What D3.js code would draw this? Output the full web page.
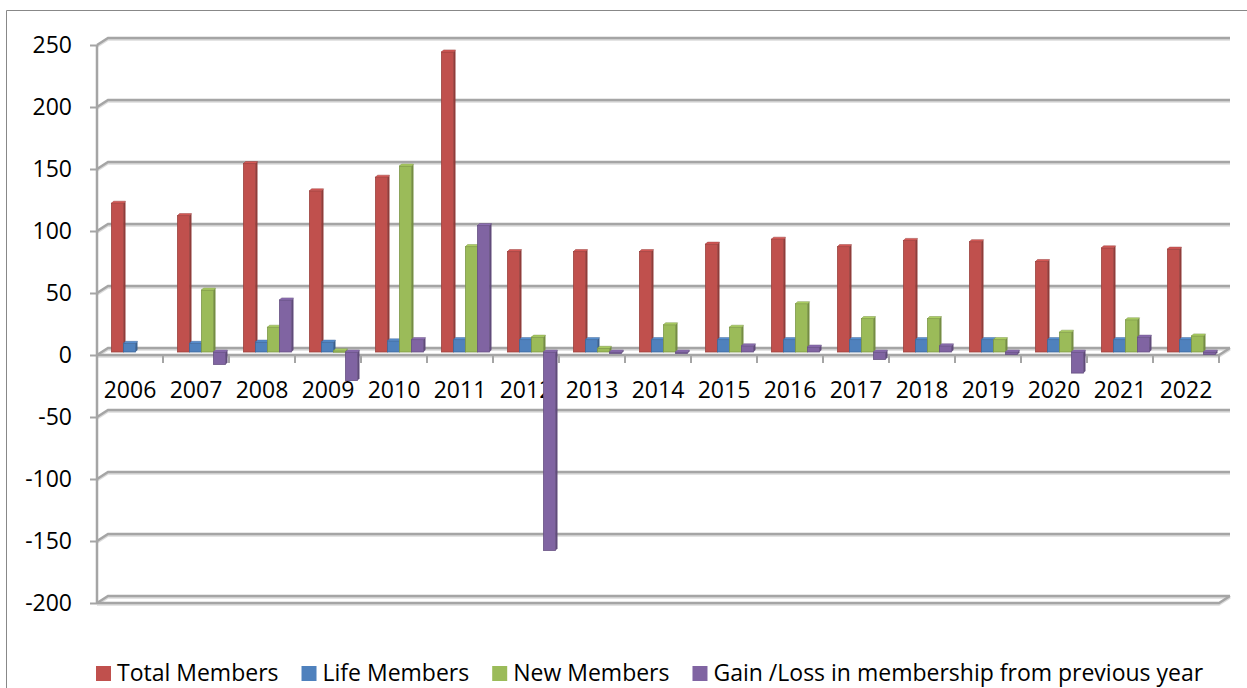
<!DOCTYPE html>
<html>
<head>
<meta charset="utf-8">
<script src="https://cdn.jsdelivr.net/npm/d3@7/dist/d3.min.js"></script>
<style>
  html, body { margin: 0; padding: 0; background: #fff; }
  text { font-family: "Open Sans", "Noto Sans", sans-serif; fill: #000; }
</style>
</head>
<body>
<div id="chart"></div>
<script>
// categories and series
var years = ["2006","2007","2008","2009","2010","2011","2012","2013","2014","2015","2016","2017","2018","2019","2020","2021","2022"];
var totalMembers = [120,110,152,130,141,242,81,81,81,87,91,85,90,89,73,84,83];
var lifeMembers  = [7,7,8,8,9,10,10,10,10,10,10,10,10,10,10,10,10];
var newMembers   = [0,50,20,1,150,85,12,3,22,20,39,27,27,10,16,26,13];
var gainLoss     = [0,-10,42,-23,10,102,-160,-1,-1,5,4,-6,5,-2,-17,12,-2];
var seriesNames  = ["Total Members","Life Members","New Members","Gain /Loss in membership from previous year"];
var seriesColors = ["#C0504D","#4F81BD","#9BBB59","#8064A2"];
var yTicks = [250,200,150,100,50,0,-50,-100,-150,-200];

var W = 1247, H = 688;
var depthX = 11, depthY = -7;   // back wall offset of the 3d box

var svg = d3.select("#chart").append("svg")
  .attr("width", W).attr("height", H);

// chart area border (runs off right and bottom)
svg.append("path")
  .attr("d", "M6.5,688 L6.5,10.5 L1247,10.5")
  .attr("fill", "none").attr("stroke", "#888").attr("stroke-width", 1);

var x = d3.scaleBand().domain(years).range([97, 1219]).paddingInner(0).paddingOuter(0);
var y = d3.scaleLinear().domain([-200, 250]).range([603, 45]);

var grid = svg.append("g");

// gridlines on the back wall plus the little diagonal to the side wall
function drawGridline(v, lineCol, w) {
  var yf = y(v), yb = yf + depthY;
  grid.append("path")
    .attr("d", "M97," + (yf + 1.5) + " L" + (97 + depthX) + "," + (yb + 1.5) + " L" + (1219 + depthX) + "," + (yb + 1.5))
    .attr("fill", "none").attr("stroke", "#dcdcdc").attr("stroke-width", w);
  grid.append("path")
    .attr("d", "M97," + yf + " L" + (97 + depthX) + "," + yb + " L" + (1219 + depthX) + "," + yb)
    .attr("fill", "none").attr("stroke", lineCol).attr("stroke-width", w);
}
yTicks.forEach(function(v) {
  if (v === 0 || v === -200) return;
  drawGridline(v, "#a5a5a5", 2.5);
});

// floors at 0 and at -200: back edge, front edge, right diagonal
[0, -200].forEach(function(v) {
  drawGridline(v, "#a5a5a5", 2.5);
  var yf = y(v);
  grid.append("path")
    .attr("d", "M97," + (yf + 1.5) + " L1219," + (yf + 1.5) + " L" + (1219 + depthX) + "," + (yf + depthY + 1.5))
    .attr("fill", "none").attr("stroke", "#dcdcdc").attr("stroke-width", 2.5);
  grid.append("path")
    .attr("d", "M97," + yf + " L1219," + yf + " L" + (1219 + depthX) + "," + (yf + depthY))
    .attr("fill", "none").attr("stroke", "#a5a5a5").attr("stroke-width", 2.5);
});

// value axis line and ticks
grid.append("line")
  .attr("x1", 97).attr("x2", 97).attr("y1", y(250)).attr("y2", y(-200))
  .attr("stroke", "#a5a5a5").attr("stroke-width", 2.5);

var yAxis = d3.axisLeft(y).tickValues(yTicks).tickSize(7).tickPadding(18)
  .tickFormat(function(d) { return String(d); });
var gy = svg.append("g").attr("transform", "translate(97,0)").call(yAxis);
gy.select(".domain").remove();
gy.selectAll(".tick line").attr("stroke", "#a5a5a5").attr("stroke-width", 2);
gy.selectAll(".tick text").style("font-size", "23px").attr("fill", "#000");

// category axis sits at 0, ticks on band boundaries
var bounds = years.map(function(d) { return x(d); }).concat([x.range()[1]]).slice(1);
svg.append("g").selectAll("line").data(bounds).join("line")
  .attr("x1", function(d) { return d; }).attr("x2", function(d) { return d; })
  .attr("y1", y(0)).attr("y2", y(0) + 8)
  .attr("stroke", "#a5a5a5").attr("stroke-width", 2);

var xAxis = d3.axisBottom(x).tickSize(0).tickPadding(0);
var gx = svg.append("g").attr("transform", "translate(0," + y(0) + ")").call(xAxis);
gx.select(".domain").remove();
gx.selectAll(".tick text").style("font-size", "23px").attr("dy", 0).attr("y", 43).attr("fill", "#000");

// bars, drawn half way into the depth of the box
var series = [totalMembers, lifeMembers, newMembers, gainLoss];
var x1 = d3.scaleBand().domain(d3.range(series.length)).range([0, x.bandwidth()]).paddingOuter(0.75).paddingInner(0);
var bw = x1.bandwidth();
var bars = svg.append("g").attr("transform", "translate(5.5,-3)");

series.forEach(function(vals, si) {
  var col = d3.color(seriesColors[si]);
  var g = bars.append("g");
  vals.forEach(function(v, i) {
    if (v === 0) return;
    var bx = x(years[i]) + x1(si);
    var top = y(Math.max(v, 0)), bot = y(Math.min(v, 0));
    var h = Math.max(bot - top, 1.5);
    // right side face
    g.append("path")
      .attr("d", "M" + (bx + bw) + "," + top + " l2,-2 l0," + h + " l-2,2 Z")
      .attr("fill", col.darker(0.8));
    // front face
    g.append("rect")
      .attr("x", bx).attr("y", top).attr("width", bw).attr("height", h)
      .attr("fill", col).attr("stroke", col.darker(0.6)).attr("stroke-width", 0.8);
    // top face
    g.append("path")
      .attr("d", "M" + bx + "," + top + " l2,-2 l" + bw + ",0 l-2,2 Z")
      .attr("fill", col.brighter(0.3)).attr("stroke", col.darker(0.6)).attr("stroke-width", 0.5);
  });
});

// legend along the bottom edge
var legend = svg.append("g");
var lx = 96;
seriesNames.forEach(function(name, i) {
  legend.append("rect")
    .attr("x", lx).attr("y", 666).attr("width", 15).attr("height", 15)
    .attr("fill", seriesColors[i]);
  var t = legend.append("text")
    .attr("x", lx + 21).attr("y", 681)
    .style("font-size", "23px")
    .text(name);
  lx += 21 + t.node().getComputedTextLength() + 23;
});
</script>
</body>
</html>
